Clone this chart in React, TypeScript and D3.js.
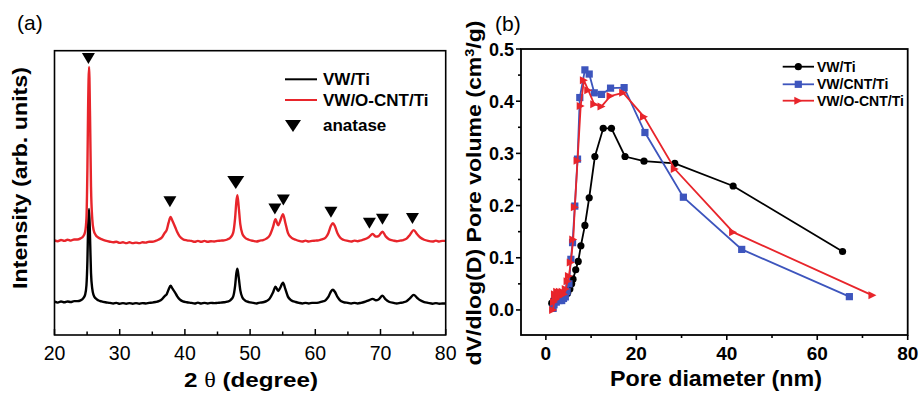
import React from "react";
import * as d3 from "d3";

// ---------- Panel (a) XRD data: [2θ, intensity above own baseline] ----------
const xrdRed: [number, number][] = [
  [20,0.2],[20.5,-0.1],[21,0.3],[21.5,0],[22,0.4],[22.5,0.1],[23,0.5],[23.5,0.5],[24,0.9],[24.4,1.6],[24.7,3.2],[24.9,8],
  [25.05,26],[25.15,46],[25.3,61.2],[25.45,44],[25.6,19],[25.8,7.5],[26,3.8],[26.3,2.1],[26.7,1.2],[27.2,0.6],[27.8,0.1],
  [28.5,-0.3],[29,-0.5],[29.5,-0.3],[30,-0.7],[30.5,-0.5],[31,-0.8],[31.5,-0.5],[32,-0.8],[32.5,-0.6],[33,-0.8],[33.5,-0.5],
  [34,-0.6],[34.5,-0.3],[35,-0.3],[35.5,0],[36,0.5],[36.5,1.3],[36.9,2.8],[37.2,3.8],[37.5,6.4],[37.8,8.4],[38.1,7],[38.5,4.9],
  [38.8,3.2],[39.2,1.6],[39.7,0.6],[40.3,0.2],[41,0],[41.5,-0.3],[42,0],[42.5,-0.3],[43,0],[43.5,-0.3],[44,-0.1],[44.5,-0.2],
  [45,0],[45.5,0.1],[46,0.2],[46.5,0.5],[47,1.2],[47.4,2.8],[47.7,8],[47.9,14],[48.05,16.1],[48.25,12],[48.5,5.8],[48.8,2.6],
  [49.2,1.2],[49.8,0.4],[50.5,0],[51,-0.2],[51.5,0.1],[52,0.3],[52.5,0.8],[53,1.9],[53.5,4.8],[53.9,7.6],[54.3,5.5],[54.6,6.9],
  [55.05,9.4],[55.4,6.4],[55.8,2.8],[56.3,1.2],[57,0.4],[57.5,0],[58,-0.2],[58.5,0.1],[59,-0.2],[59.5,0],[60,0.1],[60.5,0.2],
  [61,0.5],[61.6,1.2],[62,2.7],[62.4,5.3],[62.7,6.2],[63,5.2],[63.4,2.7],[63.8,1.2],[64.3,0.4],[65,0],[65.5,-0.2],[66,0.1],
  [66.5,-0.1],[67,0.2],[67.5,0.5],[68.2,1.3],[68.8,2.4],[69.3,1.5],[69.7,1.7],[70.3,3.2],[70.8,1.6],[71.3,0.6],[72,0.1],
  [72.5,-0.1],[73,0.1],[73.5,0.3],[74,0.8],[74.5,2.1],[75.1,3.8],[75.6,2.4],[76.1,1.2],[76.7,0.4],[77.3,0],[78,-0.2],
  [78.5,0.1],[79,-0.2],[79.5,0],[80,0],
];

const xrdBlack: [number, number][] = [
  [20,0.4],[20.5,0.1],[21,0.5],[21.5,0.2],[22,0.5],[22.5,0.3],[23,0.6],[23.5,0.6],[24,0.9],[24.4,1.6],[24.7,2.9],[24.9,6.2],
  [25.05,15],[25.15,26],[25.3,33],[25.45,23],[25.6,10.5],[25.8,4.8],[26,2.7],[26.3,1.6],[26.7,0.9],[27.2,0.5],[27.8,0.2],
  [28.5,0],[29,-0.2],[29.5,0],[30,-0.3],[30.5,-0.1],[31,-0.3],[31.5,-0.1],[32,-0.3],[32.5,-0.1],[33,-0.3],[33.5,-0.1],
  [34,-0.2],[34.5,0],[35,0.1],[35.5,0.3],[36,0.6],[36.5,1.3],[36.9,2.4],[37.2,3],[37.5,4.7],[37.8,6],[38.1,5],[38.5,3.6],
  [38.8,2.4],[39.2,1.2],[39.7,0.5],[40.3,0.2],[41,0],[41.5,-0.2],[42,0.1],[42.5,-0.2],[43,0],[43.5,-0.2],[44,0],[44.5,-0.1],
  [45,0],[45.5,0.1],[46,0.2],[46.5,0.4],[47,1],[47.4,2.2],[47.7,6],[47.9,10.5],[48.05,12],[48.25,9],[48.5,4.4],[48.8,2],
  [49.2,0.9],[49.8,0.3],[50.5,0],[51,-0.2],[51.5,0.1],[52,0.2],[52.5,0.6],[53,1.5],[53.5,3.6],[53.9,5.7],[54.3,4.2],[54.6,5.2],
  [55.05,7.1],[55.4,4.9],[55.8,2.2],[56.3,0.9],[57,0.3],[57.5,0],[58,-0.2],[58.5,0],[59,-0.2],[59.5,0],[60,0],[60.5,0.1],
  [61,0.4],[61.6,1],[62,2.1],[62.4,4],[62.7,4.6],[63,3.9],[63.4,2.1],[63.8,0.9],[64.3,0.3],[65,0],[65.5,-0.2],[66,0],
  [66.5,-0.2],[67,0],[67.5,0.3],[68.2,0.9],[68.8,1.4],[69.3,0.9],[69.7,1.2],[70.3,2.5],[70.8,1.2],[71.3,0.4],[72,0],
  [72.5,-0.2],[73,0],[73.5,0.2],[74,0.6],[74.5,1.6],[75.1,2.8],[75.6,1.8],[76.1,0.9],[76.7,0.3],[77.3,0],[78,-0.3],
  [78.5,-0.1],[79,-0.3],[79.5,-0.2],[80,-0.2],
];

const redOffset = 33.1;
const blackOffset = 11.3;

// anatase reflections: [2θ, marker height in intensity units, big?]
const anatase: [number, number, boolean][] = [
  [25.2, 97.3, false], [37.7, 46.9, false], [47.8, 53.6, true], [53.8, 44.3, false], [55.1, 47.5, false],
  [62.4, 43.2, false], [68.3, 39.3, false], [70.3, 40.7, false], [74.9, 41.0, false],
];

const xrdTicks = [20, 30, 40, 50, 60, 70, 80];
const xrdMinorTicks = [25, 35, 45, 55, 65, 75];

// ---------- Panel (b) pore size distribution ----------
const vwTi: [number, number][] = [
  [1.3,0.013],[1.8,0.02],[2.3,0.028],[2.8,0.022],[3.3,0.025],[3.8,0.022],[4.3,0.028],[4.8,0.032],[5.3,0.04],[5.7,0.05],
  [6.0,0.059],[6.6,0.077],[7.15,0.093],[7.74,0.123],[8.63,0.162],[9.58,0.215],[10.84,0.294],[12.68,0.348],[14.5,0.348],
  [17.5,0.294],[21.7,0.285],[28.5,0.281],[41.4,0.2375],[65.6,0.112],
];
const vwCntTi: [number, number][] = [
  [1.6,0.003],[1.8,0.01],[2.0,0.02],[2.3,0.015],[2.6,0.025],[2.9,0.018],[3.2,0.02],[3.5,0.018],[3.9,0.022],[4.3,0.025],
  [4.7,0.035],[5.1,0.05],[5.53,0.097],[5.9,0.129],[6.4,0.199],[7.0,0.289],[7.5,0.407],[8.63,0.46],[9.58,0.452],[10.7,0.416],
  [12.3,0.413],[14.3,0.425],[17.3,0.426],[21.9,0.34],[30.4,0.216],[43.3,0.116],[67.1,0.0255],
];
const vwOCntTi: [number, number][] = [
  [1.6,0.0],[1.8,0.015],[2.0,0.03],[2.2,0.02],[2.5,0.035],[2.8,0.025],[3.1,0.035],[3.4,0.028],[3.7,0.035],[4.0,0.03],
  [4.4,0.04],[4.8,0.055],[5.1,0.065],[5.5,0.091],[6.05,0.135],[6.4,0.197],[7.0,0.286],[7.7,0.391],[8.4,0.44],[9.37,0.421],
  [10.7,0.394],[12.3,0.39],[14.3,0.41],[17.1,0.416],[21.7,0.37],[28.5,0.27],[41.4,0.149],[72.2,0.028],
];
const poreXTicks = [0, 20, 40, 60, 80];
const poreXMinor = [10, 30, 50, 70];
const poreYTicks = [0, 0.1, 0.2, 0.3, 0.4, 0.5];
const poreYMinor = [0.05, 0.15, 0.25, 0.35, 0.45];

const RED = "#e8252b";
const BLUE = "#3d55bd";
const FONT = "'Liberation Sans', Arial, sans-serif";

function triDown(cx: number, cy: number, w: number, h: number) {
  return `M${cx - w / 2},${cy - h / 2}L${cx + w / 2},${cy - h / 2}L${cx},${cy + h / 2}Z`;
}
function triRight(cx: number, cy: number, s: number) {
  return `M${cx - s / 2},${cy - s / 2}L${cx + s / 2},${cy}L${cx - s / 2},${cy + s / 2}Z`;
}

function PanelA() {
  const L = 54.5, R = 445.7, T = 50.7, B = 335;
  const x = d3.scaleLinear().domain([20, 80]).range([L, R]);
  const y = d3.scaleLinear().domain([0, 100]).range([B, T]);
  const mk = (off: number) =>
    d3.line<[number, number]>().x((d) => x(d[0])).y((d) => y(d[1] + off)).curve(d3.curveMonotoneX);
  return (
    <g>
      <path d={mk(blackOffset)(xrdBlack) || ""} fill="none" stroke="#000" strokeWidth={2.4} strokeLinejoin="round" />
      <path d={mk(redOffset)(xrdRed) || ""} fill="none" stroke={RED} strokeWidth={2.4} strokeLinejoin="round" />
      {anatase.map(([t, v, big], i) => (
        <path key={i} d={big ? triDown(x(t), y(v), 17, 13) : triDown(x(t), y(v), 13, 11)} fill="#000" />
      ))}
      <rect x={L} y={T} width={R - L} height={B - T} fill="none" stroke="#000" strokeWidth={1.6} />
      {xrdTicks.map((t) => (
        <g key={t}>
          <line x1={x(t)} x2={x(t)} y1={B} y2={B - 6} stroke="#000" strokeWidth={1.5} />
          <text x={x(t)} y={360} textAnchor="middle" fontFamily={FONT} fontSize={19.5} fill="#000">{t}</text>
        </g>
      ))}
      {xrdMinorTicks.map((t) => (
        <line key={t} x1={x(t)} x2={x(t)} y1={B} y2={B - 3.5} stroke="#000" strokeWidth={1.5} />
      ))}
      <text x={251} y={387} textAnchor="middle" fontFamily={FONT} fontSize={21} fontWeight="bold" fill="#000"
        textLength={134} lengthAdjust="spacingAndGlyphs">
        2 <tspan fontFamily="'Liberation Serif', serif" fontWeight="normal">θ</tspan> (degree)
      </text>
      <text transform="translate(27,178) rotate(-90)" textAnchor="middle" fontFamily={FONT} fontSize={20}
        fontWeight="bold" fill="#000" textLength={222} lengthAdjust="spacingAndGlyphs">
        Intensity (arb. units)
      </text>
      <text x={17} y={30} fontFamily={FONT} fontSize={21} fill="#000">(a)</text>
      {/* legend */}
      <line x1={285} x2={317} y1={79.3} y2={79.3} stroke="#000" strokeWidth={2} />
      <text x={323} y={85} fontFamily={FONT} fontSize={17} fontWeight="bold" fill="#000">VW/Ti</text>
      <line x1={285} x2={317} y1={100} y2={100} stroke={RED} strokeWidth={2} />
      <text x={323} y={106} fontFamily={FONT} fontSize={17} fontWeight="bold" fill="#000">VW/O-CNT/Ti</text>
      <path d={triDown(293, 126, 16, 12)} fill="#000" />
      <text x={323} y={131} fontFamily={FONT} fontSize={17} fontWeight="bold" fill="#000">anatase</text>
    </g>
  );
}

function PanelB() {
  const L = 521, R = 907.7, T = 49, B = 335;
  const x = d3.scaleLinear().domain([-5.5, 80]).range([L, R]);
  const y = d3.scaleLinear().domain([-0.048, 0.5]).range([B, T]);
  const line = d3.line<[number, number]>().x((d) => x(d[0])).y((d) => y(d[1]));
  const fmt = d3.format(".1f");
  return (
    <g>
      <path d={line(vwTi) || ""} fill="none" stroke="#000" strokeWidth={1.8} />
      {vwTi.map((d, i) => <circle key={i} cx={x(d[0])} cy={y(d[1])} r={3.6} fill="#000" />)}
      <path d={line(vwCntTi) || ""} fill="none" stroke={BLUE} strokeWidth={1.8} />
      {vwCntTi.map((d, i) => <rect key={i} x={x(d[0]) - 3.6} y={y(d[1]) - 3.6} width={7.2} height={7.2} fill={BLUE} />)}
      <path d={line(vwOCntTi) || ""} fill="none" stroke={RED} strokeWidth={1.8} />
      {vwOCntTi.map((d, i) => <path key={i} d={triRight(x(d[0]), y(d[1]), 8)} fill={RED} />)}
      <rect x={L} y={T} width={R - L} height={B - T} fill="none" stroke="#000" strokeWidth={1.8} />
      {poreXTicks.map((t) => (
        <g key={t}>
          <line x1={x(t)} x2={x(t)} y1={B} y2={B + 5} stroke="#000" strokeWidth={1.6} />
          <text x={x(t)} y={360} textAnchor="middle" fontFamily={FONT} fontSize={19} fontWeight="bold" fill="#000">{t}</text>
        </g>
      ))}
      {poreXMinor.map((t) => (
        <line key={t} x1={x(t)} x2={x(t)} y1={B} y2={B + 3} stroke="#000" strokeWidth={1.6} />
      ))}
      {poreYTicks.map((t) => (
        <g key={t}>
          <line x1={L} x2={L - 5} y1={y(t)} y2={y(t)} stroke="#000" strokeWidth={1.6} />
          <text x={514} y={y(t) + 6.5} textAnchor="end" fontFamily={FONT} fontSize={18} fontWeight="bold" fill="#000">{fmt(t)}</text>
        </g>
      ))}
      {poreYMinor.map((t) => (
        <line key={t} x1={L} x2={L - 3} y1={y(t)} y2={y(t)} stroke="#000" strokeWidth={1.6} />
      ))}
      <text x={716} y={386} textAnchor="middle" fontFamily={FONT} fontSize={22} fontWeight="bold" fill="#000"
        textLength={212} lengthAdjust="spacingAndGlyphs">Pore diameter (nm)</text>
      <text transform="translate(481,193) rotate(-90)" textAnchor="middle" fontFamily={FONT} fontSize={21}
        fontWeight="bold" fill="#000" textLength={345} lengthAdjust="spacingAndGlyphs">
        dV/dlog(D) Pore volume (cm<tspan dy={-7} fontSize={13}>3</tspan><tspan dy={7}>/g)</tspan>
      </text>
      <text x={495} y={31} fontFamily={FONT} fontSize={21} fill="#000">(b)</text>
      {/* legend */}
      <line x1={782.7} x2={814} y1={66.7} y2={66.7} stroke="#000" strokeWidth={1.8} />
      <circle cx={798.3} cy={66.7} r={3.6} fill="#000" />
      <text x={817} y={71.5} fontFamily={FONT} fontSize={14} fontWeight="bold" fill="#000">VW/Ti</text>
      <line x1={782.7} x2={814} y1={84.3} y2={84.3} stroke={BLUE} strokeWidth={1.8} />
      <rect x={798.3 - 3.6} y={84.3 - 3.6} width={7.2} height={7.2} fill={BLUE} />
      <text x={817} y={89.1} fontFamily={FONT} fontSize={14} fontWeight="bold" fill="#000">VW/CNT/Ti</text>
      <line x1={782.7} x2={814} y1={100.7} y2={100.7} stroke={RED} strokeWidth={1.8} />
      <path d={triRight(798.3, 100.7, 8)} fill={RED} />
      <text x={817} y={105.5} fontFamily={FONT} fontSize={14} fontWeight="bold" fill="#000">VW/O-CNT/Ti</text>
    </g>
  );
}

export default function App() {
  return (
    <svg width={919} height={402} viewBox="0 0 919 402"
      style={{ position: "absolute", left: 0, top: 0, background: "#fff" }}>
      <rect x={0} y={0} width={919} height={402} fill="#fff" />
      <PanelA />
      <PanelB />
    </svg>
  );
}
